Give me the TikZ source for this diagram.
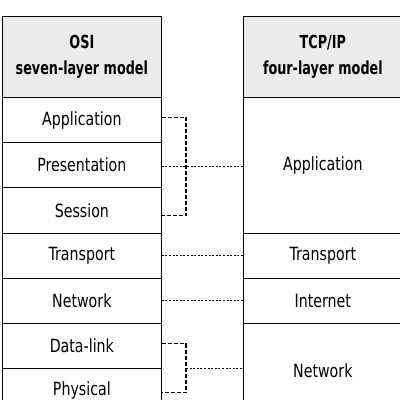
\documentclass[tikz,border=0pt]{standalone}
\usepackage{fontspec}
\setmainfont{DejaVu Sans}[FakeStretch=0.78,BoldFeatures={FakeStretch=0.71}]
\begin{document}
\begin{tikzpicture}[x=1pt,y=-1pt,
  cell/.style={draw=black,line width=1.2pt,inner sep=0pt,anchor=north west,
    minimum width=158.5pt,align=center,font=\fontsize{18.2}{26}\selectfont},
  head/.style={cell,fill=black!8,font=\bfseries\fontsize{18}{26}\selectfont},
  bracket/.style={line width=1.1pt,dash pattern=on 4pt off 2pt},
  link/.style={line width=1.1pt,dash pattern=on 2pt off 1.6pt}]
\useasboundingbox (0,0) rectangle (400,400);
\fill[white] (0,0) rectangle (400,400);
% OSI column
\node[head,minimum height=81pt] (osi) at (2,16) {OSI\\seven-layer model};
\node[cell,minimum height=45pt] (app) at (2,97) {Application};
\node[cell,minimum height=45pt] (pre) at (2,142) {Presentation};
\node[cell,minimum height=45.5pt] (ses) at (2,187) {Session};
\node[cell,minimum height=45pt] (tra) at (2,232.5) {Transport};
\node[cell,minimum height=45.5pt] (net) at (2,277.5) {Network};
\node[cell,minimum height=44.5pt] (dat) at (2,323) {Data-link};
\node[cell,minimum height=45pt] (phy) at (2,367.5) {Physical};
% TCP/IP column
\node[head,minimum height=81pt] (tcp) at (243,16) {TCP/IP\\four-layer model};
\node[cell,minimum height=135.5pt] (tapp) at (243,97) {Application};
\node[cell,minimum height=45pt] (ttra) at (243,232.5) {Transport};
\node[cell,minimum height=45.5pt] (tint) at (243,277.5) {Internet};
\node[cell,minimum height=94pt] (tnet) at (243,323) {Network};
% connectors
\coordinate (b1) at (186,0);
\coordinate (a1) at ([yshift=3pt]app.east);
\coordinate (s1) at ([yshift=-5pt]ses.east);
\coordinate (d1) at ([yshift=2pt]dat.east);
\coordinate (p1) at ([yshift=-1.5pt]phy.east);
\draw[bracket] (a1) -| (b1 |- s1) -- (s1);
\draw[link] ([yshift=-1.5pt]pre.east) -- ([yshift=-1.5pt]pre.east -| tapp.west);
\draw[link] (tra.east) -- (ttra.west);
\draw[link] (net.east) -- (tint.west);
\draw[bracket] (d1) -| (b1 |- p1) -- (p1);
\draw[link] (b1 |- dat.south) -- (dat.south -| tnet.west);
\end{tikzpicture}
\end{document}
